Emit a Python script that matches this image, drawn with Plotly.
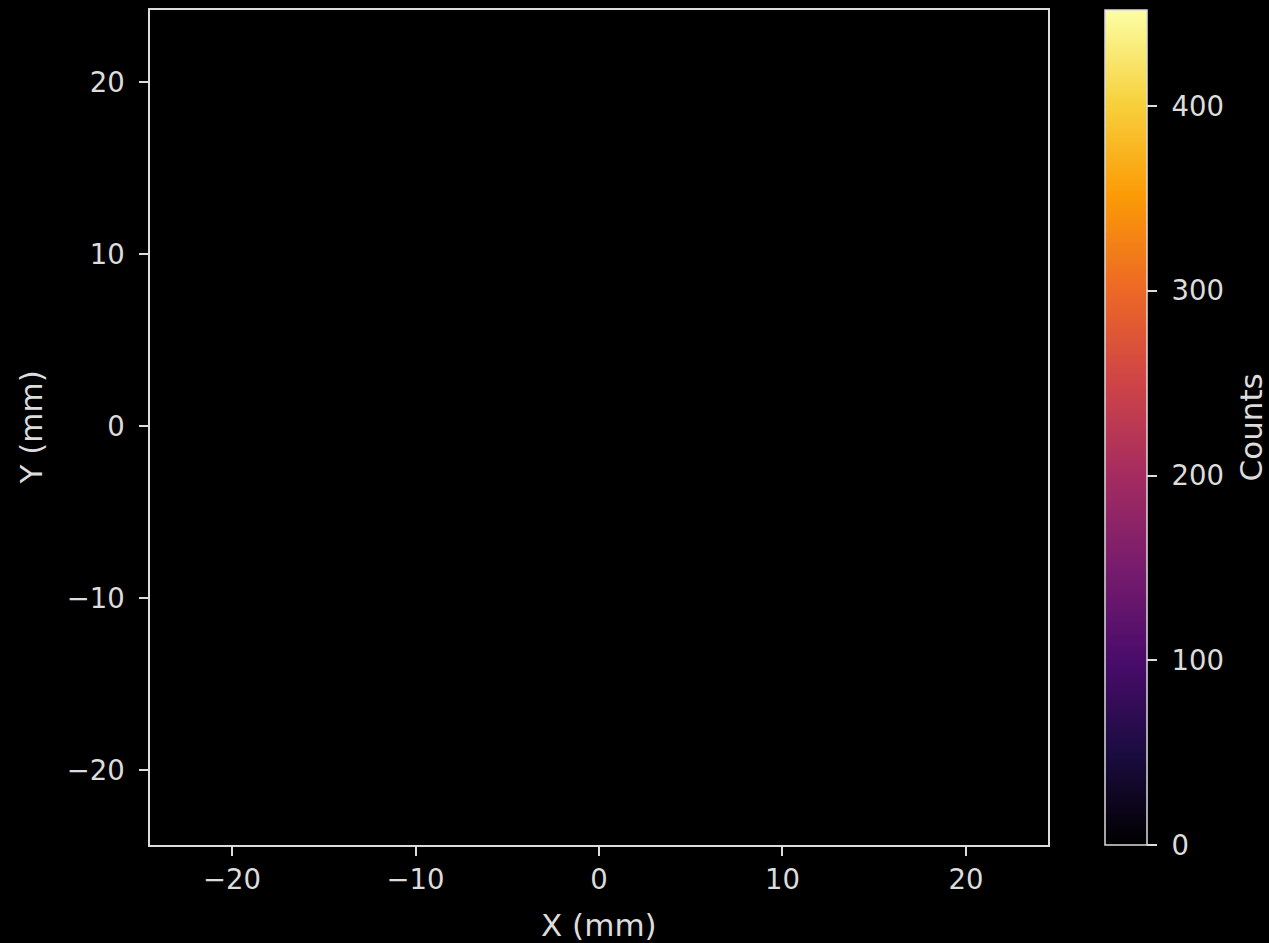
import plotly.graph_objects as go
import plotly.express as px

# Histogram grid (bin centres, mm) and counts — the image shows no visible signal
x_centers = [-22.5, -17.5, -12.5, -7.5, -2.5, 2.5, 7.5, 12.5, 17.5, 22.5]
y_centers = [-22.5, -17.5, -12.5, -7.5, -2.5, 2.5, 7.5, 12.5, 17.5, 22.5]
counts = [[0 for _ in x_centers] for _ in y_centers]
z_max = 452
x_ticks = [-20, -10, 0, 10, 20]
x_tick_labels = ["\u221220", "\u221210", "0", "10", "20"]
y_ticks = [-20, -10, 0, 10, 20]
y_tick_labels = ["\u221220", "\u221210", "0", "10", "20"]
cbar_ticks = [0, 100, 200, 300, 400]
cbar_tick_labels = ["0", "100", "200", "300", "400"]

FG = "#dcdcdc"
FONT = "DejaVu Sans"
FS_TICK = 27.5
FS_LABEL = 31

inferno = list(px.colors.sequential.Inferno)
inferno[0] = "#000000"
n = len(inferno)
colorscale = [[i / (n - 1), c] for i, c in enumerate(inferno)]

fig = go.Figure(
    go.Heatmap(
        x=x_centers,
        y=y_centers,
        z=counts,
        zmin=0,
        zmax=z_max,
        colorscale=colorscale,
        showscale=True,
        hoverinfo="skip",
        colorbar=dict(
            thickness=42,
            len=1.0,
            lenmode="fraction",
            y=0.5,
            yanchor="middle",
            x=1.0635,
            xanchor="left",
            xpad=0,
            ypad=0,
            outlinecolor=FG,
            outlinewidth=1.5,
            tickvals=cbar_ticks,
            ticktext=["\u00a0" + t for t in cbar_tick_labels],
            ticks="outside",
            ticklen=10,
            tickwidth=1.5,
            tickcolor=FG,
            tickfont=dict(color=FG, size=FS_TICK, family=FONT),
            bgcolor="black",
        ),
    )
)

axis_common = dict(
    showgrid=False,
    zeroline=False,
    showline=True,
    mirror=True,
    linecolor=FG,
    linewidth=1.5,
    ticks="outside",
    ticklen=9,
    tickwidth=1.5,
    tickcolor=FG,
    tickfont=dict(color=FG, size=FS_TICK, family=FONT),
    automargin=False,
)

fig.update_xaxes(
    range=[-24.47, 24.47],
    tickvals=x_ticks,
    ticktext=x_tick_labels,
    **axis_common,
)
fig.update_yaxes(
    range=[-24.35, 24.2],
    tickvals=y_ticks,
    ticktext=y_tick_labels,
    ticklabelstandoff=9,
    **axis_common,
)

label_font = dict(color=FG, size=FS_LABEL, family=FONT)
fig.add_annotation(text="X (mm)", xref="paper", yref="paper", x=0.5, y=-0.0958,
                   xanchor="center", yanchor="middle", showarrow=False, font=label_font)
fig.add_annotation(text="Y (mm)", xref="paper", yref="paper", x=-0.1336, y=0.5,
                   xanchor="center", yanchor="middle", textangle=-90, showarrow=False,
                   font=label_font)
fig.add_annotation(text="Counts", xref="paper", yref="paper", x=1.226, y=0.5,
                   xanchor="center", yanchor="middle", textangle=-90, showarrow=False,
                   font=label_font)

fig.update_layout(
    width=1269,
    height=943,
    margin=dict(l=150, r=221, t=10, b=98),
    paper_bgcolor="black",
    plot_bgcolor="black",
    font=dict(family=FONT, color=FG, size=FS_TICK),
)

fig.write_html(
    "out.html",
    config={"displayModeBar": False},
    post_script="document.body.style.margin='0';document.body.style.background='black';",
)
